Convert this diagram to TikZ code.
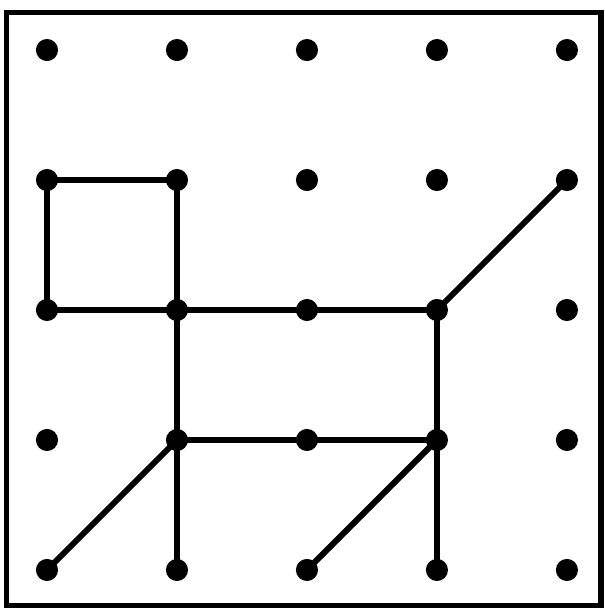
\documentclass[tikz,border=0pt]{standalone}
\begin{document}
\begin{tikzpicture}[x=2cm,y=2cm,
	peg/.style={circle,fill=black,inner sep=0pt,minimum size=0.34cm},
	band/.style={line width=2.6pt,line cap=round,line join=round}]
	\useasboundingbox (-0.3615,-0.331) rectangle (4.292,4.385);
	\draw[line width=2.2pt] (-0.315,-0.277) rectangle (4.262,4.292);
	% pegs of the board
	\foreach \i in {0,...,4}
		\foreach \j in {0,...,4}
			\node[peg] (p\i\j) at (\i,\j) {};
	% the figure
	\draw[band] (p02.center) -- (p03.center) -- (p13.center) -- (p10.center);
	\draw[band] (p02.center) -- (p32.center) -- (p43.center);
	\draw[band] (p32.center) -- (p30.center);
	\draw[band] (p11.center) -- (p31.center);
	\draw[band] (p00.center) -- (p11.center);
	\draw[band] (p20.center) -- (p31.center);
\end{tikzpicture}
\end{document}
